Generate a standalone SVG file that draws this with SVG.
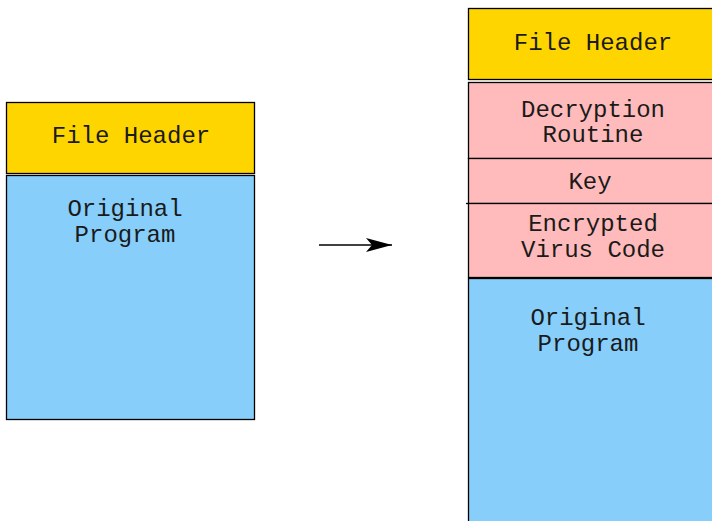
<svg xmlns="http://www.w3.org/2000/svg" width="712" height="521" viewBox="0 0 712 521">
<style>
.b{stroke:#000;stroke-width:1.3}
.h{fill:#ffd500}
.p{fill:#ffbbbb}
.o{fill:#87cefa}
text{font-family:"Liberation Mono","Courier New",monospace;font-size:24px;fill:#1a1a1a;text-anchor:middle}
</style>
<defs>
<marker id="ah" markerWidth="26" markerHeight="14" refX="26" refY="7" orient="auto" markerUnits="userSpaceOnUse">
<path d="M0,0 L26,7 L0,14 L6,7 Z" fill="#000"/>
</marker>
</defs>
<rect width="712" height="521" fill="#fff"/>
<g id="left-header"><rect class="b h" x="6.5" y="102.5" width="248" height="71"/><text x="131" y="143">File Header</text></g>
<g id="left-program"><rect class="b o" x="6.5" y="175.5" width="248" height="244"/><text x="125" y="216">Original</text><text x="125" y="242">Program</text></g>
<g id="connectors"><line x1="319" y1="245" x2="392" y2="245" stroke="#000" stroke-width="1.5" marker-end="url(#ah)"/></g>
<g id="right-header"><rect class="b h" x="468.5" y="8.5" width="252" height="71"/><text x="593" y="50">File Header</text></g>
<g id="decryption"><rect class="b p" x="468.5" y="82.5" width="252" height="76"/><text x="593" y="117">Decryption</text><text x="593" y="142">Routine</text></g>
<g id="key"><rect class="b p" x="468.5" y="158.5" width="252" height="45"/><line x1="466" y1="203.5" x2="469" y2="203.5" stroke="#000" stroke-width="1.3"/><text x="590" y="189">Key</text></g>
<g id="encrypted"><rect class="b p" x="468.5" y="203.5" width="252" height="74"/><text x="593" y="231">Encrypted</text><text x="593" y="257">Virus Code</text></g>
<g id="right-program"><rect class="b o" x="468.5" y="278.5" width="252" height="260"/><text x="588" y="325">Original</text><text x="588" y="351">Program</text></g>
</svg>
